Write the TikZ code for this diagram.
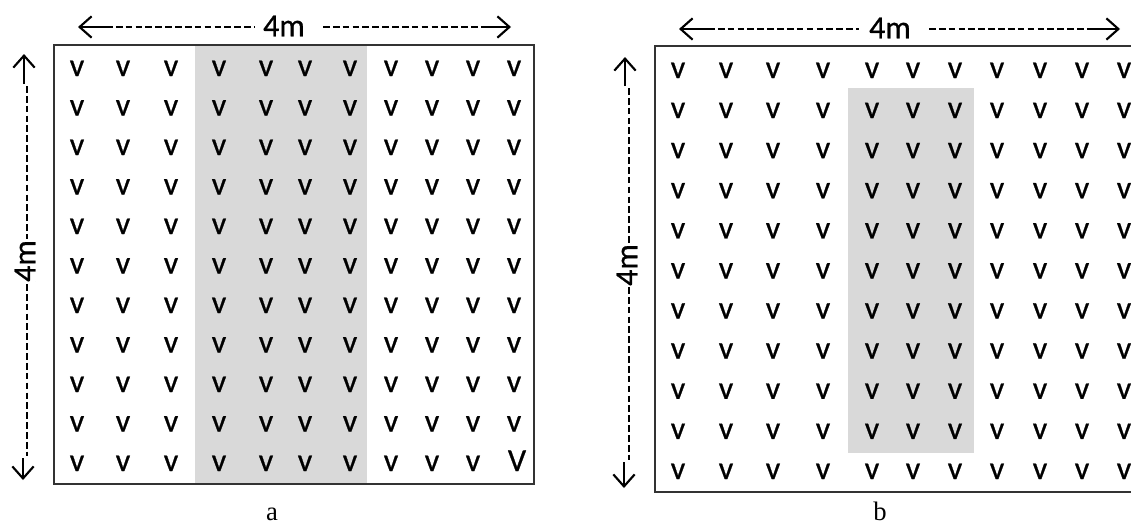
\documentclass[tikz,border=0pt]{standalone}
\usepackage{fontspec}
\setmainfont{Liberation Serif}
\newfontfamily\calfont[FakeBold=0.7]{Carlito}
\usetikzlibrary{arrows.meta}
\begin{document}
\begin{tikzpicture}[x=0.75pt,y=-0.75pt,
  frame/.style={draw=black!80,line width=1.2pt},
  shade/.style={fill=black!15,draw=none},
  vv/.style={font=\calfont\fontsize{24}{26}\selectfont,inner sep=0pt,anchor=base},
  dimdash/.style={line width=1.3pt,dash pattern=on 5pt off 2.4pt},
  dimhead/.style={line width=1.6pt,-{Straight Barb[length=9pt,width=16pt,line width=1.6pt]}},
  dimtext/.style={font=\calfont\fontsize{24}{26}\selectfont,inner sep=0pt},
  panellabel/.style={font=\fontsize{20}{22}\selectfont,inner sep=0pt}]
\clip (0,0) rectangle (1131,526);
% ---------- panel a ----------
\fill[shade] (195,45) rectangle (367,484);
\draw[frame] (54,45) rectangle (534,484);
\foreach \x [count=\i] in {77,123,171,219,266,305,350,391,432,473,514}
  \foreach \r in {0,...,9}
    \node[vv] (a-\i-\r) at (\x,{76+39.5*\r}) {v};
\foreach \x [count=\i] in {77,123,171,219,266,305,350,391,432,473}
  \node[vv] (a-\i-10) at (\x,471) {v};
\node[vv] (a-11-10) at (517,471) {V};
% horizontal dimension a
\coordinate (ahL) at (78,27);
\coordinate (ahLs) at (106,27);
\coordinate (ahLd) at (255,27);
\node[dimtext] (aht) at (284,26) {4m};
\coordinate (ahRd) at (323,27);
\coordinate (ahRs) at (483,27);
\coordinate (ahR) at (511,27);
\draw[dimhead] (ahLs) -- (ahL);
\draw[dimdash] (ahLs) -- (ahLd);
\draw[dimdash] (ahRd) -- (ahRs);
\draw[dimhead] (ahRs) -- (ahR);
% vertical dimension a
\coordinate (avT) at (24,54);
\coordinate (avTs) at (24,84);
\coordinate (avTd) at (27,86);
\coordinate (avTe) at (27,239);
\node[dimtext,rotate=90] (avt) at (25,261) {4m};
\coordinate (avBd) at (27,284);
\coordinate (avBe) at (27,456);
\coordinate (avBs) at (23,458);
\coordinate (avB) at (23,480);
\draw[dimhead] (avTs) -- (avT);
\draw[dimdash] (avTd) -- (avTe);
\draw[dimdash] (avBd) -- (avBe);
\draw[dimhead] (avBs) -- (avB);
\node[panellabel] (la) at (272,514) {a};
% ---------- panel b ----------
\fill[shade] (848,88) rectangle (974,453);
\draw[frame] (655,46) rectangle (1160,492);
\foreach \x [count=\i] in {678,726,773,823,872,913,955,997,1040,1082,1124}
  \foreach \r in {0,...,10}
    \node[vv] (b-\i-\r) at (\x,{78+40.1*\r}) {v};
% horizontal dimension b
\coordinate (bhL) at (679,29);
\coordinate (bhLs) at (708,29);
\coordinate (bhLd) at (859,29);
\node[dimtext] (bht) at (890,28) {4m};
\coordinate (bhRd) at (929,29);
\coordinate (bhRs) at (1091,29);
\coordinate (bhR) at (1120,29);
\draw[dimhead] (bhLs) -- (bhL);
\draw[dimdash] (bhLs) -- (bhLd);
\draw[dimdash] (bhRd) -- (bhRs);
\draw[dimhead] (bhRs) -- (bhR);
% vertical dimension b
\coordinate (bvT) at (625,57);
\coordinate (bvTs) at (625,86);
\coordinate (bvTd) at (629,88);
\coordinate (bvTe) at (629,244);
\node[dimtext,rotate=90] (bvt) at (627,265) {4m};
\coordinate (bvBd) at (629,287);
\coordinate (bvBe) at (629,460);
\coordinate (bvBs) at (624,462);
\coordinate (bvB) at (624,488);
\draw[dimhead] (bvTs) -- (bvT);
\draw[dimdash] (bvTd) -- (bvTe);
\draw[dimdash] (bvBd) -- (bvBe);
\draw[dimhead] (bvBs) -- (bvB);
\node[panellabel] (lb) at (880,511) {b};
\end{tikzpicture}
\end{document}
